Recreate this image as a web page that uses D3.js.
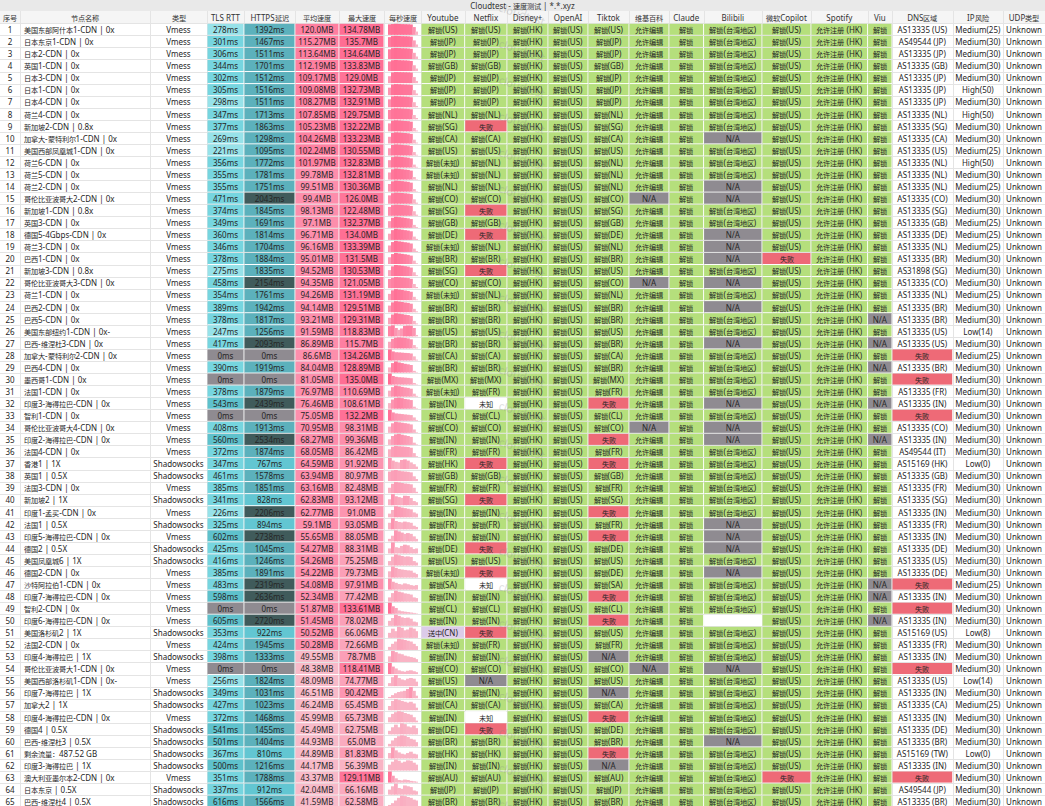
<!DOCTYPE html>
<html><head><meta charset="utf-8">
<script src="https://cdn.jsdelivr.net/npm/d3@7"></script>
<style>
@font-face{font-family:"CJKNarrow";src:local("Noto Sans CJK SC Regular"),local("NotoSansCJKsc-Regular"),local("Noto Sans CJK SC");size-adjust:90%;unicode-range:U+2E80-9FFF,U+3000-303F,U+FF00-FFEF;}
body{margin:0;background:#fff;}
svg{display:block;font-family:"Noto Sans","CJKNarrow","Noto Sans CJK SC",sans-serif;}
</style>
</head><body><svg id="c" width="1045" height="806"></svg>
<script>
// ---------------- DATA ----------------
const chartTitle = "Cloudtest - 速度测试 | *.*.xyz";
const headers = ["序号","节点名称","类型","TLS RTT","HTTPS延迟","平均速度","最大速度","每秒速度","Youtube","Netflix","Disney+","OpenAI","Tiktok","维基百科","Claude","Bilibili","微软Copilot","Spotify","Viu","DNS区域","IP风险","UDP类型"];

const names = ["美国东部阿什本1-CDN | 0x","日本东京1-CDN | 0x","日本2-CDN | 0x","英国1-CDN | 0x","日本3-CDN | 0x","日本1-CDN | 0x","日本4-CDN | 0x","荷兰4-CDN | 0x","新加坡2-CDN | 0.8x","加拿大-蒙特利尔1-CDN | 0x",
"美国西部凤凰城1-CDN | 0x","荷兰6-CDN | 0x","荷兰5-CDN | 0x","荷兰2-CDN | 0x","哥伦比亚波哥大2-CDN | 0x","新加坡1-CDN | 0.8x","英国3-CDN | 0x","德国5-4Gbps-CDN | 0x","荷兰3-CDN | 0x","巴西1-CDN | 0x",
"新加坡3-CDN | 0.8x","哥伦比亚波哥大3-CDN | 0x","荷兰1-CDN | 0x","巴西2-CDN | 0x","巴西5-CDN | 0x","美国东部纽约1-CDN | 0x-","巴西-维涅杜3-CDN | 0x","加拿大-蒙特利尔2-CDN | 0x","巴西4-CDN | 0x","墨西哥1-CDN | 0x",
"法国1-CDN | 0x","印度3-海得拉巴-CDN | 0x","智利1-CDN | 0x","哥伦比亚波哥大4-CDN | 0x","印度2-海得拉巴-CDN | 0x","法国4-CDN | 0x","香港1 | 1X","英国1 | 0.5X","法国3-CDN | 0x","新加坡2 | 1X",
"印度1-孟买-CDN | 0x","法国1 | 0.5X","印度5-海得拉巴-CDN | 0x","德国2 | 0.5X","美国凤凰城6 | 1X","德国2-CDN | 0x","沙特阿拉伯1-CDN | 0x","印度7-海得拉巴-CDN | 0x","智利2-CDN | 0x","印度6-海得拉巴-CDN | 0x",
"美国洛杉矶2 | 1X","法国2-CDN | 0x","印度4-海得拉巴 | 1X","哥伦比亚波哥大1-CDN | 0x","美国西部洛杉矶1-CDN | 0x-","印度7-海得拉巴 | 1X","加拿大2 | 1X","印度4-海得拉巴-CDN | 0x","德国4 | 0.5X","巴西-维涅杜3 | 0.5X",
"剩余流量：487.52 GB","印度3-海得拉巴 | 1X","澳大利亚墨尔本2-CDN | 0x","日本东京 | 0.5X","巴西-维涅杜4 | 0.5X"];

const types = ["Vmess","Vmess","Vmess","Vmess","Vmess","Vmess","Vmess","Vmess","Vmess","Vmess",
"Vmess","Vmess","Vmess","Vmess","Vmess","Vmess","Vmess","Vmess","Vmess","Vmess",
"Vmess","Vmess","Vmess","Vmess","Vmess","Vmess","Vmess","Vmess","Vmess","Vmess",
"Vmess","Vmess","Vmess","Vmess","Vmess","Vmess","Shadowsocks","Shadowsocks","Vmess","Shadowsocks",
"Vmess","Shadowsocks","Vmess","Shadowsocks","Shadowsocks","Vmess","Vmess","Vmess","Vmess","Vmess",
"Shadowsocks","Vmess","Shadowsocks","Vmess","Vmess","Shadowsocks","Shadowsocks","Vmess","Shadowsocks","Shadowsocks",
"Shadowsocks","Shadowsocks","Vmess","Shadowsocks","Shadowsocks"];

const tlsRtt = [278,301,306,344,302,305,298,347,377,269, 221,356,355,355,471,374,349,360,346,378,
275,458,354,389,378,247,417,0,390,0, 378,543,0,408,560,372,347,461,385,341,
226,325,602,425,416,385,483,598,0,605, 353,424,398,0,256,349,427,372,541,501, 367,500,351,337,616];

const httpsDelay = [1392,1467,1511,1701,1512,1516,1511,1713,1863,1298, 1095,1772,1781,1751,2043,1845,1691,1814,1704,1884,
1835,2154,1761,1942,1817,1256,2093,0,1919,0, 1879,2439,0,1913,2534,1874,767,1578,1851,828,
2206,894,2738,1045,1246,1891,2319,2636,0,2720, 922,1945,1333,0,1824,1031,1023,1468,1455,1404, 810,1216,1788,912,1566];

const avgSpeed = [120.0,115.27,113.64,112.19,109.17,109.08,108.27,107.85,105.23,104.26, 102.24,101.97,99.78,99.51,99.4,98.13,97.1,96.71,96.16,95.01,
94.52,94.35,94.26,94.14,93.21,91.59,86.89,86.6,84.04,81.05, 76.97,76.46,75.05,70.95,68.27,68.05,64.59,63.94,63.16,62.83,
62.77,59.1,55.65,54.27,54.26,54.22,54.08,52.34,51.87,51.45, 50.52,50.28,49.55,48.38,48.09,46.51,46.24,45.99,45.49,44.93, 44.89,44.17,43.37,42.04,41.59];

const maxSpeed = [134.78,135.7,134.64,133.83,129.0,132.73,132.91,129.75,132.22,133.23, 130.55,132.83,132.81,130.36,126.0,122.48,132.37,134.0,133.39,131.5,
130.53,121.05,131.19,129.51,129.31,118.83,115.7,134.26,128.89,135.0, 110.69,108.61,132.2,98.31,99.36,86.42,91.92,80.97,82.48,93.12,
91.0,93.05,88.05,88.31,75.25,79.73,97.91,77.42,133.61,78.02, 66.06,72.66,78.7,118.41,74.77,90.42,65.45,65.73,62.75,65.0, 81.83,56.39,129.11,66.16,62.58];

// per-second speeds (MB/s), estimated from the sparklines
const perSecond = [
[128,132,134.78,133,131,130,129,127,95,40],[120,133,135.7,134,132,131,130,126,80,30],[118,132,134.64,133,131,130,128,124,75,30],
[116,131,133.83,132,130,129,127,122,70,30],[80,125,129,128,127,126,125,123,70,25],[90,128,132.73,131,129,127,126,124,60,20],
[95,129,132.91,131,129,127,125,120,60,15],[110,126,129.75,128,126,124,122,118,50,15],[95,128,132.22,130,127,124,122,116,40,10],
[80,126,133.23,131,128,125,122,115,45,10],[85,124,130.55,128,126,122,120,112,40,8],[88,125,132.83,130,127,123,119,110,35,8],
[85,124,132.81,129,125,121,117,108,30,5],[90,122,130.36,127,124,120,116,106,30,5],[95,120,126,124,122,119,116,110,50,12],
[98,118,122.48,121,119,117,115,108,50,12],[80,120,132.37,128,124,119,114,105,35,10],[75,118,134,129,124,118,113,104,40,12],
[78,119,133.39,128,123,117,112,102,40,10],[80,118,131.5,126,121,116,110,100,40,8],[70,115,130.53,127,122,117,112,100,45,10],
[100,112,121.05,119,116,113,110,102,45,12],[75,117,131.19,126,121,115,110,100,40,8],[78,116,129.51,125,120,114,110,100,40,10],
[76,115,129.31,124,119,113,108,98,40,10],[110,118.83,90,70,85,112,116,114,90,15],[70,100,112,115.7,113,110,105,95,35,10],
[134.26,110,100,98,95,92,90,85,50,10],[60,110,128.89,118,110,102,96,88,20,5],[135,105,95,90,88,85,82,78,20,5],
[60,95,110.69,105,98,92,88,80,30,8],[55,90,105,108.61,104,96,92,85,20,5],[132.2,100,88,84,80,76,72,68,40,10],
[55,85,98.31,94,90,86,82,75,30,5],[50,80,95,99.36,92,86,80,72,20,5],[60,80,86.42,84,82,80,78,72,30,6],
[91.92,70,60,55,75,80,70,55,40,20],[70,78,80.97,76,72,70,68,64,35,15],[40,70,82.48,80,76,72,70,66,40,10],
[50,93.12,75,68,62,80,78,60,35,25],[30,60,91,86,80,75,70,65,40,30],[55,93.05,70,62,58,65,60,55,30,20],
[20,45,88.05,80,70,60,66,60,40,20],[40,88.31,50,45,60,70,65,50,35,40],[30,60,75.25,70,65,60,62,58,30,20],
[45,79.73,70,62,58,55,52,50,35,25],[97.91,70,60,50,45,55,48,40,35,40],[30,60,77.42,70,65,58,55,50,30,25],
[133.61,90,70,40,30,25,20,15,10,5],[35,55,78.02,70,60,55,58,50,30,25],[30,55,40,66.06,60,45,50,62,55,40],
[20,40,55,72.66,70,65,60,55,40,25],[40,78.7,70,60,55,45,40,35,30,20],[118.41,80,60,40,30,25,35,40,30,20],
[20,60,74.77,55,45,40,50,55,50,30],[10,25,40,50,55,60,75,90.42,60,20],[25,55,65.45,60,55,50,45,50,40,15],
[30,50,60,65.73,62,55,50,45,30,10],[20,40,55,40,62.75,58,45,40,50,35],[15,35,50,60,65,62,55,45,40,25],
[40,81.83,60,45,35,30,40,50,35,30],[30,45,56.39,50,40,45,52,50,40,30],[129.11,80,50,30,25,35,30,20,15,10],
[30,50,66.16,40,35,55,50,45,25,20],[10,20,35,50,62.58,60,55,50,40,35]];

const youtube = ["解锁(US)","解锁(JP)","解锁(JP)","解锁(GB)","解锁(JP)","解锁(JP)","解锁(JP)","解锁(NL)","解锁(SG)","解锁(CA)",
"解锁(US)","解锁(未知)","解锁(未知)","解锁(NL)","解锁(CO)","解锁(SG)","解锁(GB)","解锁(DE)","解锁(未知)","解锁(BR)",
"解锁(SG)","解锁(CO)","解锁(未知)","解锁(BR)","解锁(BR)","解锁(US)","解锁(BR)","解锁(CA)","解锁(BR)","解锁(MX)",
"解锁(未知)","解锁(IN)","解锁(CL)","解锁(CO)","解锁(IN)","解锁(FR)","解锁(HK)","解锁(GB)","解锁(FR)","解锁(SG)",
"解锁(IN)","解锁(FR)","解锁(IN)","解锁(DE)","解锁(US)","解锁(未知)","解锁(SA)","解锁(IN)","解锁(CL)","解锁(IN)",
"送中(CN)","解锁(未知)","解锁(IN)","解锁(CO)","解锁(US)","解锁(IN)","解锁(CA)","解锁(IN)","解锁(DE)","解锁(BR)",
"解锁(HK)","解锁(IN)","解锁(AU)","解锁(JP)","解锁(BR)"];

const netflix = ["解锁(US)","解锁(JP)","解锁(JP)","解锁(GB)","解锁(JP)","解锁(JP)","解锁(JP)","解锁(NL)","失败","解锁(CA)",
"解锁(US)","解锁(NL)","解锁(NL)","解锁(NL)","解锁(CO)","失败","解锁(GB)","失败","解锁(NL)","解锁(BR)",
"失败","解锁(CO)","解锁(NL)","解锁(BR)","解锁(BR)","解锁(US)","解锁(BR)","解锁(CA)","解锁(BR)","解锁(MX)",
"解锁(FR)","未知","解锁(CL)","解锁(CO)","解锁(IN)","解锁(FR)","失败","解锁(GB)","解锁(FR)","失败",
"解锁(IN)","解锁(FR)","解锁(IN)","失败","解锁(US)","失败","未知","解锁(IN)","解锁(CL)","解锁(IN)",
"失败","解锁(FR)","解锁(IN)","解锁(CO)","N/A","解锁(IN)","解锁(CA)","未知","失败","解锁(BR)",
"解锁(HK)","解锁(IN)","解锁(AU)","解锁(JP)","解锁(BR)"];

const disney = ["解锁(HK)","解锁(HK)","解锁(HK)","解锁(HK)","解锁(HK)","解锁(HK)","解锁(HK)","解锁(HK)","解锁(HK)","解锁(HK)",
"解锁(HK)","解锁(HK)","解锁(HK)","解锁(HK)","解锁(HK)","解锁(HK)","解锁(HK)","解锁(HK)","解锁(HK)","解锁(HK)",
"解锁(HK)","解锁(HK)","解锁(HK)","解锁(HK)","解锁(HK)","解锁(HK)","解锁(HK)","解锁(HK)","解锁(HK)","解锁(HK)",
"解锁(HK)","解锁(HK)","解锁(HK)","解锁(HK)","解锁(HK)","解锁(HK)","解锁(HK)","解锁(HK)","解锁(HK)","解锁(HK)",
"解锁(HK)","解锁(HK)","解锁(HK)","解锁(HK)","解锁(HK)","解锁(HK)","解锁(HK)","解锁(HK)","解锁(HK)","解锁(HK)",
"解锁(HK)","解锁(HK)","解锁(HK)","解锁(HK)","解锁(HK)","解锁(HK)","解锁(HK)","解锁(HK)","解锁(HK)","解锁(HK)",
"解锁(HK)","解锁(HK)","解锁(HK)","解锁(HK)","解锁(HK)"];

const openai = ["解锁(US)","解锁(US)","解锁(US)","解锁(US)","解锁(US)","解锁(US)","解锁(US)","解锁(US)","解锁(US)","解锁(US)",
"解锁(US)","解锁(US)","解锁(US)","解锁(US)","解锁(US)","解锁(US)","解锁(US)","解锁(US)","解锁(US)","解锁(US)",
"解锁(US)","解锁(US)","解锁(US)","解锁(US)","解锁(US)","解锁(US)","解锁(US)","解锁(US)","解锁(US)","解锁(US)",
"解锁(US)","解锁(US)","解锁(US)","解锁(US)","解锁(US)","解锁(US)","解锁(US)","解锁(US)","解锁(US)","解锁(US)",
"解锁(US)","解锁(US)","解锁(US)","解锁(US)","解锁(US)","解锁(US)","解锁(US)","解锁(US)","解锁(US)","解锁(US)",
"解锁(US)","解锁(US)","解锁(US)","解锁(US)","解锁(US)","解锁(US)","解锁(US)","解锁(US)","解锁(US)","解锁(US)",
"解锁(US)","解锁(US)","解锁(US)","解锁(US)","解锁(US)"];

const tiktok = ["解锁(US)","解锁(JP)","解锁(JP)","解锁(GB)","解锁(JP)","解锁(JP)","解锁(JP)","解锁(NL)","解锁(SG)","解锁(CA)",
"解锁(US)","解锁(NL)","解锁(NL)","解锁(NL)","解锁(CO)","解锁(SG)","解锁(GB)","解锁(DE)","解锁(NL)","解锁(BR)",
"解锁(US)","解锁(CO)","解锁(NL)","解锁(BR)","解锁(BR)","解锁(US)","解锁(BR)","解锁(CA)","解锁(BR)","解锁(MX)",
"解锁(FR)","失败","解锁(CL)","解锁(CO)","失败","解锁(FR)","失败","解锁(GB)","解锁(FR)","解锁(SG)",
"失败","解锁(FR)","失败","解锁(DE)","解锁(US)","解锁(DE)","解锁(SA)","失败","解锁(CL)","失败",
"解锁(US)","解锁(FR)","N/A","解锁(CO)","解锁(US)","N/A","解锁(CA)","失败","解锁(DE)","解锁(BR)",
"失败","N/A","解锁(AU)","解锁(JP)","解锁(BR)"];

const wiki = ["允许编辑","允许编辑","允许编辑","允许编辑","允许编辑","允许编辑","允许编辑","允许编辑","允许编辑","允许编辑",
"允许编辑","允许编辑","允许编辑","允许编辑","N/A","允许编辑","允许编辑","允许编辑","允许编辑","允许编辑",
"允许编辑","N/A","允许编辑","允许编辑","允许编辑","允许编辑","允许编辑","允许编辑","允许编辑","允许编辑",
"允许编辑","允许编辑","允许编辑","N/A","允许编辑","允许编辑","允许编辑","允许编辑","允许编辑","允许编辑",
"允许编辑","允许编辑","允许编辑","允许编辑","允许编辑","允许编辑","允许编辑","允许编辑","允许编辑","允许编辑",
"允许编辑","允许编辑","允许编辑","N/A","允许编辑","允许编辑","允许编辑","允许编辑","允许编辑","允许编辑",
"允许编辑","允许编辑","允许编辑","允许编辑","允许编辑"];

const claude = ["解锁","解锁","解锁","解锁","解锁","解锁","解锁","解锁","解锁","解锁","解锁","解锁","解锁","解锁","解锁","解锁","解锁","解锁","解锁","解锁",
"解锁","解锁","解锁","解锁","解锁","解锁","解锁","解锁","解锁","解锁","解锁","解锁","解锁","解锁","解锁","解锁","解锁","解锁","解锁","解锁",
"解锁","解锁","解锁","解锁","解锁","解锁","解锁","解锁","解锁","解锁","解锁","解锁","解锁","解锁","解锁","解锁","解锁","解锁","解锁","解锁",
"解锁","解锁","解锁","解锁","解锁"];

const bilibili = ["解锁(台湾地区)","解锁(台湾地区)","解锁(台湾地区)","解锁(台湾地区)","解锁(台湾地区)","解锁(台湾地区)","解锁(台湾地区)","解锁(台湾地区)","解锁(台湾地区)","N/A",
"解锁(台湾地区)","解锁(台湾地区)","解锁(台湾地区)","N/A","N/A","解锁(台湾地区)","解锁(台湾地区)","N/A","N/A","N/A",
"解锁(台湾地区)","N/A","解锁(台湾地区)","N/A","解锁(台湾地区)","解锁(台湾地区)","N/A","解锁(台湾地区)","解锁(台湾地区)","解锁(台湾地区)",
"解锁(台湾地区)","N/A","解锁(台湾地区)","N/A","N/A","解锁(台湾地区)","解锁(台湾地区)","解锁(台湾地区)","解锁(台湾地区)","解锁(台湾地区)",
"解锁(台湾地区)","N/A","N/A","N/A","解锁(台湾地区)","N/A","解锁(台湾地区)","解锁(台湾地区)","解锁(台湾地区)","",
"解锁(台湾地区)","解锁(台湾地区)","解锁(台湾地区)","N/A","解锁(台湾地区)","解锁(台湾地区)","解锁(台湾地区)","解锁(台湾地区)","解锁(台湾地区)","N/A",
"解锁(台湾地区)","解锁(台湾地区)","解锁(台湾地区)","解锁(台湾地区)","解锁(台湾地区)"];

const copilot = ["解锁(US)","解锁(US)","解锁(US)","解锁(US)","解锁(US)","解锁(US)","解锁(US)","解锁(US)","解锁(US)","解锁(US)",
"解锁(US)","解锁(US)","解锁(US)","解锁(US)","解锁(US)","解锁(US)","解锁(US)","解锁(US)","解锁(US)","失败",
"解锁(US)","解锁(US)","解锁(US)","解锁(US)","解锁(US)","解锁(US)","解锁(US)","解锁(US)","解锁(US)","解锁(US)",
"解锁(US)","解锁(US)","解锁(US)","解锁(US)","解锁(US)","解锁(US)","解锁(US)","解锁(US)","解锁(US)","解锁(US)",
"解锁(US)","解锁(US)","解锁(US)","解锁(US)","解锁(US)","解锁(US)","解锁(US)","解锁(US)","解锁(US)","解锁(US)",
"解锁(US)","解锁(US)","解锁(US)","解锁(US)","解锁(US)","解锁(US)","解锁(US)","解锁(US)","解锁(US)","解锁(US)",
"解锁(US)","解锁(US)","失败","解锁(US)","解锁(US)"];

const spotify = ["允许注册 (HK)","允许注册 (HK)","允许注册 (HK)","允许注册 (HK)","允许注册 (HK)","允许注册 (HK)","允许注册 (HK)","允许注册 (HK)","允许注册 (HK)","允许注册 (HK)",
"允许注册 (HK)","允许注册 (HK)","允许注册 (HK)","允许注册 (HK)","允许注册 (HK)","允许注册 (HK)","允许注册 (HK)","允许注册 (HK)","允许注册 (HK)","允许注册 (HK)",
"允许注册 (HK)","允许注册 (HK)","允许注册 (HK)","允许注册 (HK)","允许注册 (HK)","允许注册 (HK)","允许注册 (HK)","允许注册 (HK)","允许注册 (HK)","允许注册 (HK)",
"允许注册 (HK)","允许注册 (HK)","允许注册 (HK)","允许注册 (HK)","允许注册 (HK)","允许注册 (HK)","允许注册 (HK)","允许注册 (HK)","允许注册 (HK)","允许注册 (HK)",
"允许注册 (HK)","允许注册 (HK)","允许注册 (HK)","允许注册 (HK)","允许注册 (HK)","允许注册 (HK)","允许注册 (HK)","允许注册 (HK)","允许注册 (HK)","允许注册 (HK)",
"允许注册 (HK)","允许注册 (HK)","允许注册 (HK)","允许注册 (HK)","允许注册 (HK)","允许注册 (HK)","允许注册 (HK)","允许注册 (HK)","允许注册 (HK)","允许注册 (HK)",
"允许注册 (HK)","允许注册 (HK)","允许注册 (HK)","允许注册 (HK)","允许注册 (HK)"];

const viu = ["解锁","解锁","解锁","解锁","解锁","解锁","解锁","解锁","解锁","解锁","解锁","解锁","解锁","解锁","解锁","解锁","解锁","解锁","解锁","解锁",
"解锁","解锁","解锁","解锁","N/A","解锁","N/A","解锁","N/A","解锁","解锁","N/A","解锁","解锁","N/A","解锁","解锁","解锁","解锁","解锁",
"解锁","解锁","解锁","解锁","解锁","解锁","N/A","N/A","解锁","N/A","解锁","解锁","解锁","解锁","解锁","解锁","解锁","解锁","解锁","解锁",
"解锁","解锁","解锁","解锁","解锁"];

const dnsRegion = ["AS13335 (US)","AS49544 (JP)","AS13335 (JP)","AS13335 (GB)","AS13335 (JP)","AS13335 (JP)","AS13335 (JP)","AS13335 (NL)","AS13335 (SG)","AS13335 (CA)",
"AS13335 (US)","AS13335 (NL)","AS13335 (NL)","AS13335 (NL)","AS13335 (CO)","AS13335 (SG)","AS13335 (GB)","AS13335 (DE)","AS13335 (NL)","AS13335 (BR)",
"AS31898 (SG)","AS13335 (CO)","AS13335 (NL)","AS13335 (BR)","AS13335 (BR)","AS13335 (US)","AS13335 (US)","失败","AS13335 (BR)","失败",
"AS13335 (FR)","AS13335 (IN)","失败","AS13335 (CO)","AS13335 (IN)","AS49544 (IT)","AS15169 (HK)","AS13335 (GB)","AS13335 (FR)","AS13335 (SG)",
"AS13335 (IN)","AS13335 (FR)","AS13335 (IN)","AS13335 (DE)","AS13335 (US)","AS13335 (DE)","失败","AS13335 (IN)","失败","AS13335 (IN)",
"AS15169 (US)","AS13335 (FR)","AS13335 (IN)","失败","AS13335 (US)","AS13335 (IN)","AS13335 (CA)","AS13335 (IN)","AS13335 (DE)","AS13335 (BR)",
"AS15169 (TW)","AS13335 (IN)","失败","AS49544 (JP)","AS13335 (BR)"];

const ipRisk = ["Medium(25)","Medium(30)","Medium(30)","Medium(30)","Medium(30)","High(50)","Medium(30)","High(50)","Medium(30)","Medium(30)",
"Medium(25)","High(50)","Medium(30)","Medium(25)","Medium(30)","Medium(30)","Medium(25)","Medium(25)","Medium(25)","Medium(30)",
"Medium(30)","Medium(30)","Medium(25)","Medium(30)","Medium(30)","Low(14)","Medium(30)","Medium(25)","Medium(30)","Medium(30)",
"Medium(30)","Medium(30)","Medium(30)","Medium(30)","Medium(30)","Medium(30)","Low(0)","Medium(30)","Medium(30)","Medium(30)",
"Medium(30)","Medium(30)","Medium(30)","Medium(30)","Medium(30)","Medium(30)","Medium(25)","Medium(30)","Medium(30)","Medium(30)",
"Low(8)","Medium(30)","Medium(30)","Medium(30)","Low(14)","Medium(30)","Medium(25)","Medium(30)","Medium(30)","Medium(30)",
"Low(0)","Medium(30)","Medium(30)","Medium(30)","Medium(30)"];

const udpType = ["Unknown","Unknown","Unknown","Unknown","Unknown","Unknown","Unknown","Unknown","Unknown","Unknown","Unknown","Unknown","Unknown","Unknown","Unknown","Unknown","Unknown","Unknown","Unknown","Unknown",
"Unknown","Unknown","Unknown","Unknown","Unknown","Unknown","Unknown","Unknown","Unknown","Unknown","Unknown","Unknown","Unknown","Unknown","Unknown","Unknown","Unknown","Unknown","Unknown","Unknown",
"Unknown","Unknown","Unknown","Unknown","Unknown","Unknown","Unknown","Unknown","Unknown","Unknown","Unknown","Unknown","Unknown","Unknown","Unknown","Unknown","Unknown","Unknown","Unknown","Unknown",
"Unknown","Unknown","Unknown","Unknown","Unknown"];

// ---------------- LAYOUT ----------------
const W = 1045, H = 806, N = names.length;
const colEdges = [0,20,150,207,244,295,339,384,421,464.7,507,548,588,629,669,703.6,762,811,867.6,892,952.7,1003,1045];
const FS = 8;
const C = {
  green:"#b5df7c", red:"#ee6a77", gray:"#8f8b91", purple:"#dccbe9", white:"#ffffff",
  grid:"#e4e4e4", text:"#262626"
};
const colX = d3.scaleOrdinal().domain(d3.range(headers.length)).range(colEdges.slice(0,-1));
const colW = i => colEdges[i+1]-colEdges[i];
const rowY = d3.scaleBand().domain(d3.range(N)).range([23.3, 23.3 + N*12.06]);
const rh = rowY.bandwidth();

const tlsColor = d3.scaleThreshold().domain([1,300,500]).range([C.gray,"#97e2e9","#76d5df","#5ec1cc"]);
const httpsColor = d3.scaleThreshold().domain([1,1000,2000]).range([C.gray,"#62c6d2","#5cb1bc","#405b5b"]);
const avgColor = d3.scaleThreshold().domain([50,100]).range(["#f8bac9","#fd8eac","#ff7fa0"]);
const maxColor = d3.scaleLinear().domain([55,100,136]).range(["#f9b4c5","#fd8dab","#ff6d93"]).clamp(true);
const statusColor = s => s==="失败"?C.red : s==="N/A"?C.gray : (s==="未知"||s==="")?C.white : s.startsWith("送中")?C.purple : C.green;
const fmtMB = v => { let s = String(v); if(!s.includes(".")) s += ".0"; return s + "MB"; };

const svg = d3.select("#c");
svg.append("rect").attr("width",W).attr("height",H).attr("fill","#fff");

// title bar + header
svg.append("rect").attr("x",0).attr("y",0).attr("width",W).attr("height",11).attr("fill","#e9e9e9");
svg.append("text").attr("x",W/2).attr("y",5.8).attr("text-anchor","middle").attr("dominant-baseline","central")
  .attr("font-size",FS).attr("fill","#333").text(chartTitle);
svg.append("rect").attr("x",0).attr("y",11).attr("width",W).attr("height",12.3).attr("fill","#f5f5f5");
svg.append("g").selectAll("text").data(headers).join("text")
  .attr("x",(d,i)=>colX(i)+colW(i)/2).attr("y",17.3).attr("text-anchor","middle").attr("dominant-baseline","central")
  .attr("font-size",FS).attr("fill","#333").text(d=>d);

// grid
const grid = svg.append("g").attr("stroke",C.grid).attr("stroke-width",1).attr("shape-rendering","crispEdges");
grid.selectAll("line.h").data(d3.range(N+1)).join("line").attr("class","h")
  .attr("x1",0).attr("x2",W).attr("y1",i=>Math.round(23.3+i*rh)+0.5).attr("y2",i=>Math.round(23.3+i*rh)+0.5);
grid.selectAll("line.v").data(colEdges.slice(1,-1)).join("line").attr("class","v")
  .attr("x1",d=>Math.round(d)+0.5).attr("x2",d=>Math.round(d)+0.5).attr("y1",11).attr("y2",H);

// column definitions
const columns = [
  {text:i=>String(i+1)},
  {text:i=>names[i], align:"start"},
  {text:i=>types[i]},
  {text:i=>tlsRtt[i]+"ms", fill:i=>tlsColor(tlsRtt[i])},
  {text:i=>httpsDelay[i]+"ms", fill:i=>httpsColor(httpsDelay[i])},
  {text:i=>fmtMB(avgSpeed[i]), fill:i=>avgColor(avgSpeed[i])},
  {text:i=>fmtMB(maxSpeed[i]), fill:i=>maxColor(maxSpeed[i])},
  {spark:true},
  {text:i=>youtube[i], fill:i=>statusColor(youtube[i])},
  {text:i=>netflix[i], fill:i=>statusColor(netflix[i])},
  {text:i=>disney[i], fill:i=>statusColor(disney[i])},
  {text:i=>openai[i], fill:i=>statusColor(openai[i])},
  {text:i=>tiktok[i], fill:i=>statusColor(tiktok[i])},
  {text:i=>wiki[i], fill:i=>statusColor(wiki[i])},
  {text:i=>claude[i], fill:i=>statusColor(claude[i])},
  {text:i=>bilibili[i], fill:i=>statusColor(bilibili[i])},
  {text:i=>copilot[i], fill:i=>statusColor(copilot[i])},
  {text:i=>spotify[i], fill:i=>statusColor(spotify[i])},
  {text:i=>viu[i], fill:i=>statusColor(viu[i])},
  {text:i=>dnsRegion[i], fill:i=>dnsRegion[i]==="失败"?C.red:null},
  {text:i=>ipRisk[i]},
  {text:i=>udpType[i]}
];

const body = svg.append("g");
columns.forEach((col,ci)=>{
  const g = body.append("g");
  const x0 = colX(ci), w = colW(ci);
  if(col.fill){
    g.selectAll("rect").data(d3.range(N).filter(i=>col.fill(i))).join("rect")
      .attr("x",x0+0.5).attr("y",i=>rowY(i)+0.5).attr("width",w-1).attr("height",rh-1)
      .attr("fill",i=>col.fill(i));
  }
  if(col.spark){
    const xs = d3.scaleBand().domain(d3.range(10)).range([388,418]);
    d3.range(N).forEach(i=>{
      const ys = d3.scaleLinear().domain([0,maxSpeed[i]]).range([rowY(i)+rh-0.5, rowY(i)+0.5]);
      g.append("g").selectAll("rect").data(perSecond[i]).join("rect")
        .attr("x",(d,k)=>xs(k)).attr("width",(d,k)=>xs.bandwidth()+(k<9?0.8:0))
        .attr("y",d=>ys(d)).attr("height",d=>ys(0)-ys(d))
        .attr("fill",d=>maxColor(d));
    });
    return;
  }
  const anchor = col.align==="start"?"start":"middle";
  g.selectAll("text").data(d3.range(N)).join("text")
    .attr("x",anchor==="start"? x0+4 : x0+w/2)
    .attr("y",i=>rowY(i)+rh/2+0.3).attr("text-anchor",anchor).attr("dominant-baseline","central")
    .attr("font-size",FS).attr("fill",C.text).text(i=>col.text(i));
});

// watermark
svg.append("g").selectAll("text").data(d3.range(23)).join("text")
  .attr("transform",k=>`translate(522,${14+k*36.2}) rotate(18)`)
  .attr("text-anchor","middle").attr("dominant-baseline","central")
  .attr("font-size",11).attr("fill","#888").attr("opacity",0.28).text("cloudtest");
</script>
</body></html>
